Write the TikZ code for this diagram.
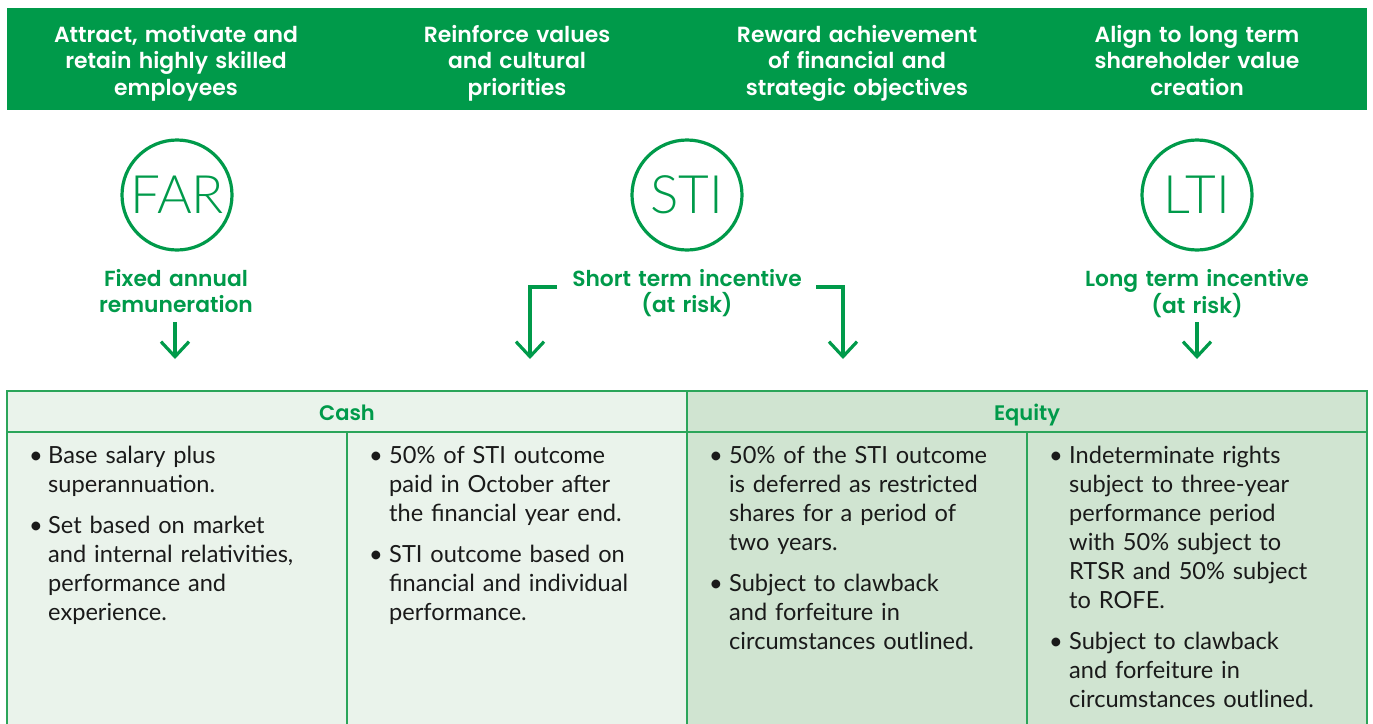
\documentclass[tikz,border=0pt]{standalone}
\usepackage{fontspec}
\setmainfont{Lato}
\newfontfamily\lightfont{Lato Light}
\newfontfamily\hfont{Poppins SemiBold}
\usetikzlibrary{arrows.meta}
\definecolor{bannergreen}{HTML}{009A4A}
\definecolor{linegreen}{HTML}{2BA55A}
\definecolor{lightfill}{HTML}{EAF3EB}
\definecolor{darkfill}{HTML}{D0E4D1}
\definecolor{textdark}{HTML}{1A1A1A}
\tikzset{
  hdr/.style={text=white, font=\hfont\fontsize{21.9}{26.5}\selectfont, align=center, anchor=base, inner sep=0pt, text width=330pt},
  ring/.style={circle, draw=bannergreen, line width=3.2pt, minimum size=110pt, inner sep=0pt, text=bannergreen, font=\lightfont\fontsize{53}{53}\selectfont},
  lab/.style={text=bannergreen, font=\hfont\fontsize{21.8}{26}\selectfont, align=center, anchor=base, inner sep=0pt, text width=330pt},
  arr/.style={draw=bannergreen, line width=3.2pt, -{Straight Barb[length=15pt,width=28pt,line width=3.2pt]}},
  cellline/.style={draw=linegreen, line width=1.3pt},
  colhead/.style={text=bannergreen, font=\hfont\fontsize{21}{25}\selectfont, anchor=base, inner sep=0pt},
  bodytxt/.style={text=textdark, font=\fontsize{23.6}{29}\selectfont, align=left, anchor=base west, inner sep=0pt, text width=#1},
  bodytxt/.default=295pt,
  bul/.style={text=textdark, font=\fontsize{23.6}{29}\selectfont, anchor=base, inner sep=0pt}
}
\begin{document}
\begin{tikzpicture}[x=1pt,y=-1pt]
\useasboundingbox (0,0) rectangle (1373,723);
% banner
\fill[bannergreen] (7,8) rectangle (1367,110);
\node[hdr] (h1) at (176,42) {Attract, motivate and\\retain highly skilled\\employees};
\node[hdr] (h2) at (517,42) {Reinforce values\\and cultural\\priorities};
\node[hdr] (h3) at (857,42) {Reward achievement\\of financial and\\strategic objectives};
\node[hdr] (h4) at (1197,42) {Align to long term\\shareholder value\\creation};
% circles
\node[ring] (far) at (177,195) {FAR};
\node[ring] (sti) at (687,195) {STI};
\node[ring] (lti) at (1197,195) {LTI};
% labels
\node[lab] (farlab) at (176,286) {Fixed annual\\remuneration};
\node[lab] (stilab) at (687,286) {Short term incentive\\(at risk)};
\node[lab] (ltilab) at (1197,286) {Long term incentive\\(at risk)};
% arrows
\coordinate (fartop) at (175,322);
\coordinate (farend) at (175,359);
\draw[arr] (fartop) -- (farend);
\coordinate (stiL) at (557,287);
\coordinate (stiLend) at (530,359);
\draw[arr] (stiL) -| (stiLend);
\coordinate (stiR) at (816,287);
\coordinate (stiRend) at (843,359);
\draw[arr] (stiR) -| (stiRend);
\coordinate (ltitop) at (1197,322);
\coordinate (ltiend) at (1197,359);
\draw[arr] (ltitop) -- (ltiend);
% table fills
\fill[lightfill] (7,391) rectangle (687,730);
\fill[darkfill] (687,391) rectangle (1367,730);
% table lines
\draw[cellline] (7,730) -- (7,391) -- (1367,391) -- (1367,730);
\draw[cellline] (7,432) -- (1367,432);
\draw[cellline] (687,391) -- (687,730);
\draw[cellline] (347,432) -- (347,730);
\draw[cellline] (1027,432) -- (1027,730);
% column heads
\node[colhead] (cash) at (347,420) {Cash};
\node[colhead] (equity) at (1027,420) {Equity};
% column 1
\node[bul] (b11) at (36,463) {\textbullet};
\node[bodytxt] (t11) at (48,463) {Base salary plus\\superannuation.};
\node[bul] (b12) at (36,533) {\textbullet};
\node[bodytxt] (t12) at (48,533) {Set based on market\\and internal relativities,\\performance and\\experience.};
% column 2
\node[bul] (b21) at (376,463) {\textbullet};
\node[bodytxt] (t21) at (389,463) {50\% of STI outcome\\paid in October after\\the financial year end.};
\node[bul] (b22) at (376,562) {\textbullet};
\node[bodytxt] (t22) at (389,562) {STI outcome based on\\financial and individual\\performance.};
% column 3
\node[bul] (b31) at (716,463) {\textbullet};
\node[bodytxt] (t31) at (729,463) {50\% of the STI outcome\\is deferred as restricted\\shares for a period of\\two years.};
\node[bul] (b32) at (716,591) {\textbullet};
\node[bodytxt] (t32) at (729,591) {Subject to clawback\\and forfeiture in\\circumstances outlined.};
% column 4
\node[bul] (b41) at (1056,463) {\textbullet};
\node[bodytxt] (t41) at (1069,463) {Indeterminate rights\\subject to three-year\\performance period\\with 50\% subject to\\RTSR and 50\% subject\\to ROFE.};
\node[bul] (b42) at (1056,649) {\textbullet};
\node[bodytxt] (t42) at (1069,649) {Subject to clawback\\and forfeiture in\\circumstances outlined.};
\end{tikzpicture}
\end{document}
